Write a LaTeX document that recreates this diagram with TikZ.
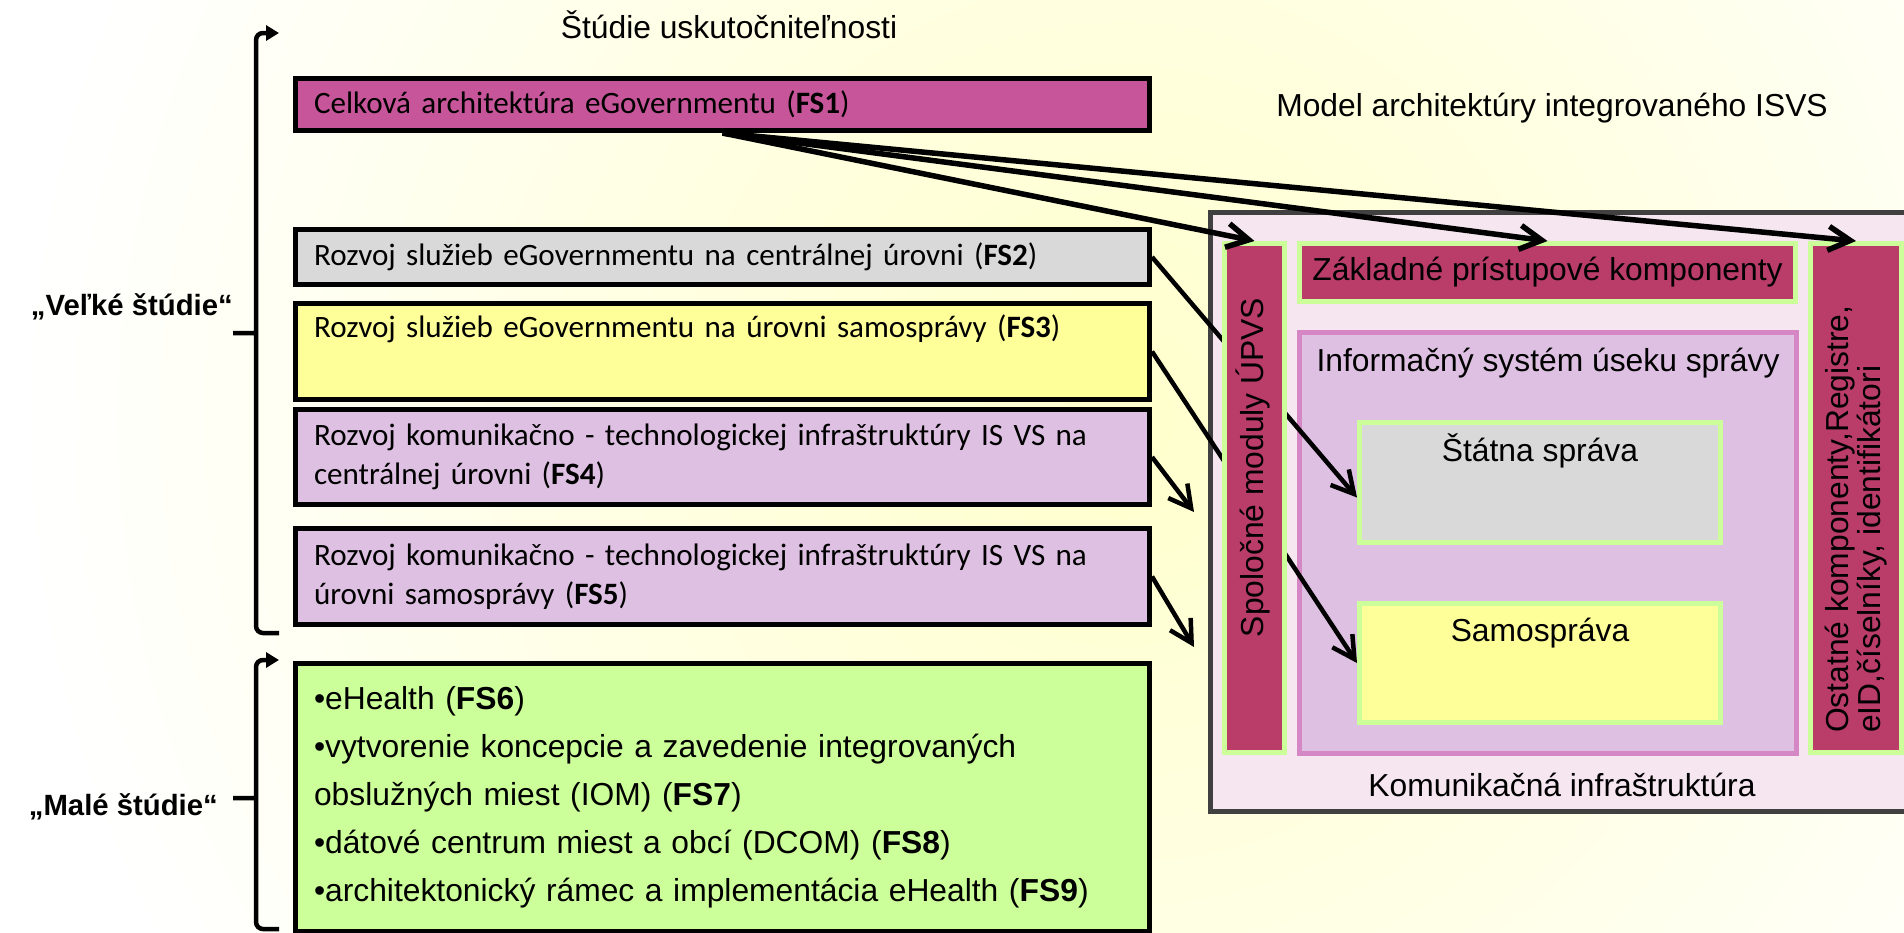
\documentclass[tikz,border=0pt]{standalone}
\usepackage{fontspec}
\setmainfont{Liberation Sans}
\newfontfamily\calibri{Carlito}
\usepackage{tikz}
\usetikzlibrary{positioning,arrows.meta}
\definecolor{FSMagenta}{HTML}{C6559A}
\definecolor{FSGray}{HTML}{D9D9D9}
\definecolor{FSYellow}{HTML}{FFFF99}
\definecolor{FSLilac}{HTML}{DEC0E2}
\definecolor{FSGreen}{HTML}{CCFF99}
\definecolor{ModCrimson}{HTML}{B93C69}
\definecolor{ModPink}{HTML}{F5E6EF}
\definecolor{ModFrame}{HTML}{404040}
\definecolor{ModOrchid}{HTML}{D586C4}
\definecolor{BgYellow}{HTML}{FFFFCC}

\begin{document}
\begin{tikzpicture}[
      x=1pt, y=-1pt,
      node distance=14pt,
      every node/.style={inner sep=0pt, font=\fontsize{31.8}{38.2}\selectfont},
      study/.style={draw=black, line width=5pt, minimum width=854pt, text width=817pt, inner xsep=18.5pt, align=left, font=\calibri\fontsize{31.1}{39}\selectfont},
      block/.style={draw=FSGreen, line width=5pt, fill=ModCrimson},
      part/.style={draw=FSGreen, line width=5pt},
      brace/.style={line width=4.5pt, rounded corners=7pt},
      group/.style={anchor=base east, font=\bfseries\fontsize{29.3}{35}\selectfont},
      arrow/.style={line width=4.5pt, -{Straight Barb[length=22pt,width=24pt]}}
    ]
      \useasboundingbox (0,0) rectangle (1904,932);
      \clip (0,0) rectangle (1904,932);

      % background
      \fill[white] (0,0) rectangle (1904,932);
      \shade[inner color=BgYellow, outer color=white] (1120,420) circle (1100);

      % titles
      \node[anchor=base] (feasibility) at (729,38) {Štúdie uskutočniteľnosti};
      \node[anchor=base] (modeltitle) at (1552,116) {Model architektúry integrovaného ISVS};

      % studies
      \node[study, fill=FSMagenta, minimum height=52pt] (fs1) at (722.5,104.5) {Celková architektúra eGovernmentu (\textbf{FS1})};
      \node[study, fill=FSGray, minimum height=55pt, below=94pt of fs1] (fs2) {Rozvoj služieb eGovernmentu na centrálnej úrovni (\textbf{FS2})};
      \node[study, fill=FSYellow, minimum height=96pt, below=14pt of fs2] (fs3) {Rozvoj služieb eGovernmentu na úrovni samosprávy (\textbf{FS3})\\\strut};
      \node[study, fill=FSLilac, minimum height=95pt, below=5pt of fs3] (fs4) {Rozvoj komunikačno - technologickej infraštruktúry IS VS na\\centrálnej úrovni (\textbf{FS4})};
      \node[study, fill=FSLilac, minimum height=96pt, below=19pt of fs4] (fs5) {Rozvoj komunikačno - technologickej infraštruktúry IS VS na\\úrovni samosprávy (\textbf{FS5})};
      \node[study, fill=FSGreen, minimum height=268pt, below=34pt of fs5, font=\fontsize{31.8}{48}\selectfont] (fs6) {•eHealth (\textbf{FS6})\\•vytvorenie koncepcie a zavedenie integrovaných\\obslužných miest (IOM) (\textbf{FS7})\\•dátové centrum miest a obcí (DCOM) (\textbf{FS8})\\•architektonický rámec a implementácia eHealth (\textbf{FS9})\rule[-4pt]{0pt}{0pt}};

      % braces
      \draw[brace, {Triangle[length=13pt,width=15pt]}-] (256,333) -- (233,333) (279,33) -- (256,33) -- (256,633) -- (279,633);
      \draw[brace, {Triangle[length=13pt,width=15pt]}-] (256,798) -- (233,798) (279,660) -- (256,660) -- (256,929) -- (279,929);
      \node[group] (velke) at (233,315) {„Veľké štúdie“};
      \node[group] (male) at (218,815) {„Malé štúdie“};

      % model
      \node[draw=ModFrame, fill=ModPink, line width=5pt, minimum width=703pt, minimum height=599pt] (model) at (1562,512) {};
      \node[anchor=base] (komunikacna) at ([yshift=17.5pt]model.south) {Komunikačná infraštruktúra};
      \node[draw=ModOrchid, fill=FSLilac, line width=5pt, minimum width=497pt, minimum height=421pt] (isus) at (1548,543) {};
      \node[anchor=base] (isustext) at ([yshift=-41.5pt]isus.north) {Informačný systém úseku správy};
      \node[part, fill=FSGray, minimum width=361pt, minimum height=120pt] (statna) at (1540,482.5) {};
      \node[anchor=base] (statnatext) at ([yshift=-41.5pt]statna.north) {Štátna správa};
      \node[part, fill=FSYellow, minimum width=361pt, minimum height=119pt] (samosprava) at (1540,663) {};
      \node[anchor=base] (samospravatext) at ([yshift=-40.5pt]samosprava.north) {Samospráva};
      \node[block, minimum width=496pt, minimum height=58pt] (zakladne) at (1547.5,272.5) {Základné prístupové komponenty};

      % links from the studies
      \coordinate (fs4end) at (1194,512);
      \coordinate (fs5end) at (1194,647);
      \draw[arrow] (fs2.east) -- ([yshift=-15pt]statna.west);
      \draw[arrow] (fs3.east) -- (samosprava.west);
      \draw[arrow] (fs4.east) -- (fs4end);
      \draw[arrow] (fs5.east) -- (fs5end);

      % side modules
      \node[block, minimum width=60pt, minimum height=509pt] (upvs) at (1254.5,498) {};
      \node[rotate=90, anchor=base] (upvstext) at ([xshift=8.5pt,yshift=30.5pt]upvs.center) {Spoločné moduly ÚPVS};
      \node[block, minimum width=91pt, minimum height=509pt] (ostatne) at (1856,498) {};
      \node[rotate=90, anchor=west, align=left, font=\fontsize{31.8}{32}\selectfont] (ostatnetext) at ([yshift=-235pt]ostatne.center) {Ostatné komponenty,Registre,\\eID,číselníky, identifikátori};

      \draw[arrow, line width=5.5pt] (fs1.south) -- (upvs.north);
      \draw[arrow, line width=5.5pt] (fs1.south) -- (zakladne.north);
      \draw[arrow, line width=5.5pt] (fs1.south) -- (ostatne.north);

    \end{tikzpicture}
\end{document}
